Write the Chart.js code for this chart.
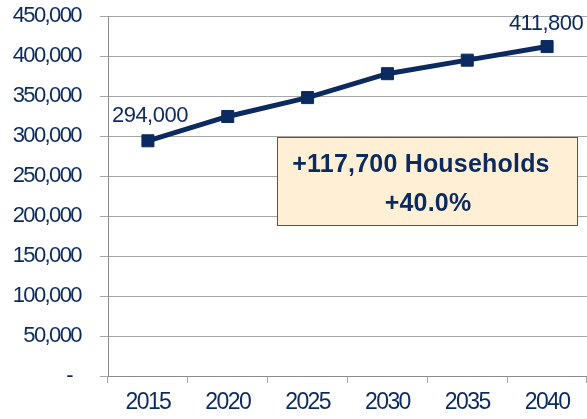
<!DOCTYPE html>
<html>
<head>
<meta charset="utf-8">
<script src="https://cdn.jsdelivr.net/npm/chart.js@4.4.1/dist/chart.umd.min.js"></script>
<style>
  html, body { margin: 0; padding: 0; background: #fff; overflow: hidden; }
  #wrap { width: 587px; height: 419px; }
</style>
</head>
<body>
<div id="wrap"><canvas id="households"></canvas></div>
<script>
// chart values
var years = ['2015', '2020', '2025', '2030', '2035', '2040'];
var households = [294000, 324400, 348000, 377900, 394800, 411800];
var yTicks = [0, 50000, 100000, 150000, 200000, 250000, 300000, 350000, 400000, 450000];
var boxLines = ['+117,700 Households', '+40.0%'];

var navy = '#0b2a5f';
var sans = "'Liberation Sans', Arial, sans-serif";
var tight = '-1.6px';   // no narrow face installed, so squeeze the letters a bit

function fmt(v) {
  return v === 0 ? '-  ' : v.toLocaleString('en-US');
}

// squeeze text for the whole chart
var squeeze = {
  id: 'squeeze',
  beforeLayout: function(chart) { chart.ctx.letterSpacing = tight; },
  beforeDraw: function(chart) { chart.ctx.letterSpacing = tight; }
};

// end-point labels and the summary box
var extras = {
  id: 'extras',
  afterDatasetsDraw: function(chart) {
    var ctx = chart.ctx;
    var x = chart.scales.x, y = chart.scales.y;
    var last = households.length - 1;
    ctx.save();
    ctx.letterSpacing = '-0.5px';
    ctx.fillStyle = navy;
    ctx.font = '22px ' + sans;
    ctx.textAlign = 'center';
    ctx.textBaseline = 'alphabetic';
    ctx.fillText(fmt(households[0]), x.getPixelForValue(0) + 2, y.getPixelForValue(households[0]) - 19);
    ctx.fillText(fmt(households[last]), x.getPixelForValue(last) - 1, y.getPixelForValue(households[last]) - 17);

    // summary box
    var bx = 277, by = 137, bw = 300, bh = 88;
    ctx.fillStyle = '#fff0d5';
    ctx.fillRect(bx, by, bw, bh);
    ctx.strokeStyle = '#555';
    ctx.lineWidth = 1;
    ctx.strokeRect(bx + 0.5, by + 0.5, bw, bh);
    ctx.fillStyle = navy;
    ctx.font = 'bold 25px ' + sans;
    ctx.letterSpacing = '0.2px';
    ctx.fillText(boxLines[0], bx + 144, by + 35);
    ctx.fillText(boxLines[1], bx + 151, by + 74);
    ctx.restore();
  }
};

new Chart(document.getElementById('households'), {
  type: 'line',
  data: {
    labels: years,
    datasets: [{
      data: households,
      borderColor: navy,
      backgroundColor: navy,
      borderWidth: 5,
      pointStyle: 'rect',
      pointRadius: 8.5,
      pointBorderWidth: 1,
      pointHoverRadius: 8.5,
      fill: false,
      tension: 0
    }]
  },
  options: {
    responsive: true,
    maintainAspectRatio: false,
    animation: false,
    layout: { autoPadding: false, padding: { top: 16, right: 0, left: 0, bottom: 0 } },
    plugins: {
      legend: { display: false },
      tooltip: { enabled: false }
    },
    scales: {
      x: {
        offset: true,
        grid: { offset: true, drawOnChartArea: false, drawTicks: true, tickLength: 7, color: '#a6a6a6' },
        border: { color: '#8c8c8c', width: 1 },
        ticks: { color: navy, font: { family: sans, size: 23 }, padding: 6, maxRotation: 0 },
        afterFit: function(s) { s.height = 43; s.paddingLeft = 0; s.paddingRight = 0; }
      },
      y: {
        min: 0,
        max: 450000,
        afterBuildTicks: function(s) { s.ticks = yTicks.map(function(v) { return { value: v }; }); },
        grid: { color: '#a6a6a6', tickLength: 8 },
        border: { color: '#8c8c8c', width: 1 },
        ticks: { color: navy, font: { family: sans, size: 22 }, padding: 19, callback: fmt },
        afterFit: function(s) { s.width = 108; s.paddingTop = 0; s.paddingBottom = 0; }
      }
    }
  },
  plugins: [squeeze, extras]
});
</script>
</body>
</html>
